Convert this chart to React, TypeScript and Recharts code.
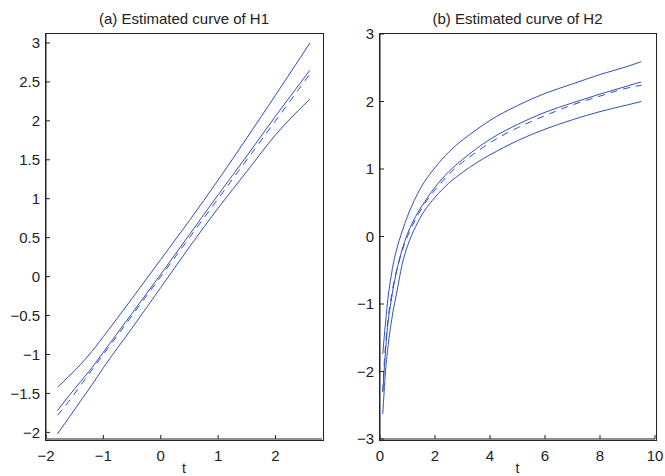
import React from 'react';
import { LineChart, Line, XAxis, YAxis } from 'recharts';

// (a) H1: grid of t and the four curves
const T1 = [-1.8, -1.6, -1.4, -1.2, -1, -0.5, 0, 0.5, 1, 1.5, 2, 2.6];
const H1_UPPER = [-1.42, -1.28, -1.13, -0.96, -0.77, -0.28, 0.22, 0.72, 1.24, 1.78, 2.33, 3.0];
const H1_MID = [-1.72, -1.53, -1.35, -1.17, -0.97, -0.47, 0.03, 0.54, 1.05, 1.55, 2.06, 2.65];
const H1_TRUE = [-1.78, -1.6, -1.4, -1.2, -1.0, -0.5, 0, 0.5, 1, 1.5, 2, 2.6];
const H1_LOWER = [-2.02, -1.81, -1.6, -1.39, -1.17, -0.66, -0.14, 0.38, 0.88, 1.35, 1.82, 2.28];

// (b) H2
const T2 = [0.1, 0.15, 0.2, 0.3, 0.4, 0.5, 0.6, 0.8, 1.0, 1.3, 1.6, 2.0, 2.5, 3.0, 3.5, 4.0, 5.0, 6.0, 7.0, 8.0, 9.0, 9.5];
const H2_UPPER = [-1.74, -1.5, -1.28, -0.88, -0.6, -0.37, -0.2, 0.07, 0.3, 0.58, 0.8, 1.02, 1.25, 1.43, 1.58, 1.72, 1.94, 2.12, 2.26, 2.4, 2.52, 2.59];
const H2_MID = [-2.3, -2.0, -1.7, -1.25, -0.97, -0.72, -0.52, -0.2, 0.04, 0.3, 0.5, 0.73, 0.96, 1.14, 1.3, 1.44, 1.66, 1.84, 1.98, 2.11, 2.23, 2.29];
const H2_TRUE = [-2.3, -1.9, -1.61, -1.2, -0.92, -0.69, -0.51, -0.22, 0, 0.26, 0.47, 0.69, 0.92, 1.1, 1.25, 1.39, 1.61, 1.79, 1.95, 2.08, 2.2, 2.24];
const H2_LOWER = [-2.63, -2.3, -2.0, -1.6, -1.3, -1.05, -0.85, -0.42, -0.14, 0.15, 0.37, 0.58, 0.79, 0.95, 1.09, 1.21, 1.42, 1.59, 1.73, 1.85, 1.95, 2.0];

const X1_TICKS = [-2, -1, 0, 1, 2];
const Y1_TICKS = [-2, -1.5, -1, -0.5, 0, 0.5, 1, 1.5, 2, 2.5, 3];
const X2_TICKS = [0, 2, 4, 6, 8, 10];
const Y2_TICKS = [-3, -2, -1, 0, 1, 2, 3];

const LINE = '#3050b8';
const AXIS = '#222';
const FONT = '"Liberation Sans", Arial, Helvetica, sans-serif';

const build = (t: number[], up: number[], mid: number[], tr: number[], lo: number[]) =>
  t.map((x, i) => ({ t: x, up: up[i], mid: mid[i], tr: tr[i], lo: lo[i] }));

const fmt = (v: number) => String(v).replace('-', '\u2212');
const blank = () => '';

interface PanelProps {
  left: number;
  width: number;
  yWidth: number;
  title: string;
  data: any[];
  xDomain: [number, number];
  yDomain: [number, number];
  xTicks: number[];
  yTicks: number[];
}

const CHART_H = 482;
const TOP = 34;
const BOTTOM = 13;
const X_H = 30;
const RIGHT = 10;

const Panel = ({ left, width, yWidth, title, data, xDomain, yDomain, xTicks, yTicks }: PanelProps) => {
  const tickStyle = { fill: '#222', fontSize: 15, fontFamily: FONT };
  const plotW = width - yWidth - RIGHT;
  const plotH = CHART_H - TOP - BOTTOM - X_H;
  const plotCenter = yWidth + plotW / 2;
  const axisLine = { stroke: AXIS, strokeWidth: 1 };
  const tickLine = { stroke: AXIS, strokeWidth: 1 };
  return (
    <div style={{ position: 'absolute', left, top: 0, width, height: CHART_H }}>
      <div
        style={{
          position: 'absolute',
          top: 11,
          left: plotCenter - 150,
          width: 300,
          textAlign: 'center',
          fontFamily: FONT,
          fontSize: 15,
          lineHeight: '15px',
          color: '#222',
        }}
      >
        {title}
      </div>
      <div
        style={{
          position: 'absolute',
          top: 461,
          left: plotCenter - 20,
          width: 40,
          textAlign: 'center',
          fontFamily: FONT,
          fontSize: 14,
          lineHeight: '14px',
          color: '#222',
        }}
      >
        t
      </div>
      <LineChart width={width} height={CHART_H} data={data} margin={{ top: TOP, right: RIGHT, left: 0, bottom: BOTTOM }}>
        <XAxis
          dataKey="t"
          type="number"
          domain={xDomain}
          allowDataOverflow
          ticks={xTicks}
          interval={0}
          height={X_H}
          tickSize={-4}
          tickMargin={15}
          tickFormatter={fmt}
          tick={tickStyle}
          axisLine={axisLine}
          tickLine={tickLine}
        />
        <XAxis
          xAxisId="top"
          orientation="top"
          dataKey="t"
          type="number"
          domain={xDomain}
          allowDataOverflow
          ticks={xTicks}
          interval={0}
          height={0}
          tickSize={-4}
          tickFormatter={blank}
          axisLine={axisLine}
          tickLine={tickLine}
        />
        <YAxis
          type="number"
          domain={yDomain}
          allowDataOverflow
          ticks={yTicks}
          interval={0}
          width={yWidth}
          tickSize={-4}
          tickMargin={10}
          tickFormatter={fmt}
          tick={tickStyle}
          axisLine={axisLine}
          tickLine={tickLine}
        />
        <YAxis
          yAxisId="right"
          orientation="right"
          type="number"
          domain={yDomain}
          allowDataOverflow
          ticks={yTicks}
          interval={0}
          width={0}
          tickSize={-4}
          tickFormatter={blank}
          axisLine={axisLine}
          tickLine={tickLine}
        />
        <Line dataKey="up" stroke={LINE} strokeWidth={1} dot={false} isAnimationActive={false} type="monotone" />
        <Line dataKey="mid" stroke={LINE} strokeWidth={1} dot={false} isAnimationActive={false} type="monotone" />
        <Line
          dataKey="tr"
          xAxisId="top"
          yAxisId="right"
          stroke={LINE}
          strokeWidth={1}
          strokeDasharray="7 6"
          dot={false}
          isAnimationActive={false}
          type="monotone"
        />
        <Line dataKey="lo" stroke={LINE} strokeWidth={1} dot={false} isAnimationActive={false} type="monotone" />
      </LineChart>
      {/* box frame around the plot area */}
      <div
        style={{
          position: 'absolute',
          left: yWidth - 1,
          top: TOP - 1,
          width: plotW + 1,
          height: plotH + 1,
          border: `1px solid ${AXIS}`,
          pointerEvents: 'none',
        }}
      />
    </div>
  );
};

export default function App() {
  const d1 = build(T1, H1_UPPER, H1_MID, H1_TRUE, H1_LOWER);
  const d2 = build(T2, H2_UPPER, H2_MID, H2_TRUE, H2_LOWER);
  return (
    <div style={{ position: 'absolute', left: 0, top: 0, width: 665, height: 476, overflow: 'hidden', background: '#fff' }}>
      <Panel
        left={0}
        width={332}
        yWidth={46}
        title="(a) Estimated curve of H1"
        data={d1}
        xDomain={[-2, 2.81]}
        yDomain={[-2.085, 3.115]}
        xTicks={X1_TICKS}
        yTicks={Y1_TICKS}
      />
      <Panel
        left={332}
        width={333}
        yWidth={48}
        title="(b) Estimated curve of H2"
        data={d2}
        xDomain={[0, 10]}
        yDomain={[-3, 3]}
        xTicks={X2_TICKS}
        yTicks={Y2_TICKS}
      />
    </div>
  );
}
